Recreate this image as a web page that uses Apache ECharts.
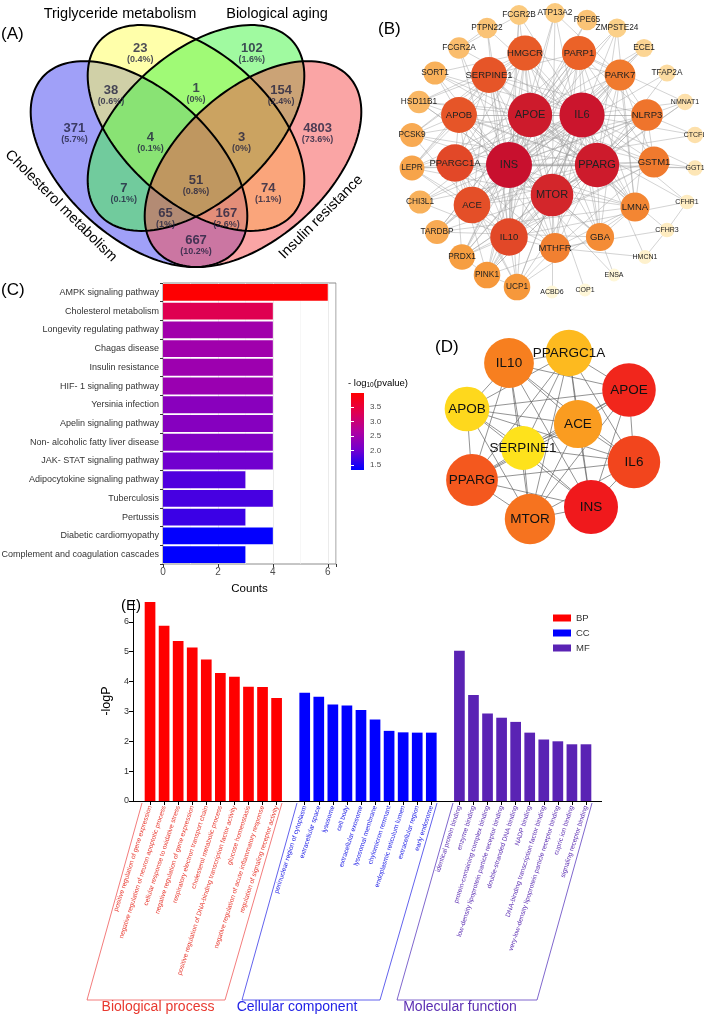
<!DOCTYPE html>
<html>
<head>
<meta charset="utf-8">
<title>Figure</title>
<script src="https://cdn.jsdelivr.net/npm/echarts@6/dist/echarts.min.js"></script>
<style>
html, body { margin: 0; padding: 0; background: #fff; }
#main { width: 704px; height: 1015px; }
</style>
</head>
<body>
<div id="main"></div>
<script>
// ---------- (A) venn ----------
var vennCounts = [371, 23, 102, 4803, 38, 1, 154, 4, 3, 51, 7, 74, 65, 167, 667]
// where each count sits, in the venn's unit square (same order as vennCounts)
var vennSpots = [[0.18, 0.555], [0.353, 0.776], [0.647, 0.776], [0.82, 0.555], [0.276, 0.66], [0.5, 0.665], [0.724, 0.66],
  [0.38, 0.53], [0.62, 0.53], [0.5, 0.411], [0.31, 0.388], [0.69, 0.388], [0.42, 0.319], [0.58, 0.319], [0.5, 0.244]]
// ellipses: centre x, centre y, tilt (deg)  -- cholesterol, triglyceride, aging, insulin
var vennShapes = [[0.35, 0.47, 135], [0.5, 0.57, 135], [0.5, 0.57, 45], [0.65, 0.47, 45]]
var vennA = 0.35
var vennB = 0.2
var vennFills = ['rgba(65,65,241,0.5)', 'rgba(255,255,85,0.5)', 'rgba(65,245,65,0.5)', 'rgba(245,75,75,0.5)']
var vennTotal = vennCounts.reduce(function (s, v) { return s + v }, 0)

// ---------- (B) PPI network ----------
var bNames = ['INS', 'IL6', 'APOE', 'PPARG', 'MTOR', 'IL10', 'PPARGC1A', 'ACE', 'SERPINE1', 'APOB', 'HMGCR', 'PARP1',
  'NLRP3', 'PARK7', 'GSTM1', 'MTHFR', 'LMNA', 'GBA', 'PINK1', 'UCP1', 'PRDX1', 'LEPR', 'PCSK9', 'TARDBP', 'CHI3L1',
  'SORT1', 'HSD11B1', 'FCGR2A', 'PTPN22', 'RPE65', 'FCGR2B', 'ATP13A2', 'ZMPSTE24', 'ECE1', 'TFAP2A', 'NMNAT1',
  'CTCFL', 'GGT1', 'CFHR1', 'CFHR3', 'HMCN1', 'ENSA', 'COP1', 'ACBD6']
var bDegree = [40, 39, 38, 38, 36, 30, 30, 29, 28, 28, 27, 26, 23, 22, 22, 21, 20, 19, 17, 17, 16, 15, 14, 14, 13,
  13, 12, 11, 10, 10, 9, 9, 8, 7, 6, 5, 5, 4, 3, 3, 2, 1, 1, 1]
var bAdj = {
  INS: 'IL6 APOE PPARG MTOR HMGCR PARP1 PARK7 NLRP3 GSTM1 LMNA GBA MTHFR IL10 ACE PPARGC1A APOB SERPINE1 FCGR2B PTPN22 FCGR2A SORT1 HSD11B1 PCSK9 LEPR CHI3L1 TARDBP PRDX1 PINK1 UCP1 ECE1 ZMPSTE24 RPE65 ATP13A2 TFAP2A NMNAT1 GGT1 CTCFL ENSA',
  IL6: 'APOE PPARG MTOR HMGCR PARP1 PARK7 NLRP3 GSTM1 LMNA GBA MTHFR IL10 ACE PPARGC1A APOB SERPINE1 FCGR2B FCGR2A PTPN22 SORT1 HSD11B1 LEPR CHI3L1 TARDBP PRDX1 PINK1 UCP1 ECE1 CFHR1 HMCN1 NMNAT1 CTCFL GGT1',
  APOE: 'PPARG MTOR HMGCR PARP1 PARK7 NLRP3 GSTM1 LMNA GBA MTHFR IL10 ACE PPARGC1A APOB SERPINE1 SORT1 PCSK9 LEPR HSD11B1 TARDBP PRDX1 PINK1 UCP1 ATP13A2 RPE65 ZMPSTE24 ECE1 CFHR1 CFHR3 CHI3L1 FCGR2B',
  PPARG: 'MTOR HMGCR PARP1 PARK7 NLRP3 GSTM1 LMNA GBA MTHFR IL10 ACE PPARGC1A APOB SERPINE1 LEPR HSD11B1 PCSK9 UCP1 PINK1 PRDX1 SORT1 TFAP2A NMNAT1 GGT1 CHI3L1 ZMPSTE24',
  MTOR: 'HMGCR PARP1 PARK7 NLRP3 LMNA GBA MTHFR IL10 ACE PPARGC1A APOB SERPINE1 PINK1 UCP1 PRDX1 TARDBP LEPR ATP13A2 COP1 ACBD6 ZMPSTE24 NMNAT1 HSD11B1',
  IL10: 'ACE APOB SERPINE1 PPARGC1A NLRP3 GSTM1 HMGCR FCGR2A FCGR2B PTPN22 CHI3L1 LEPR MTHFR PRDX1 UCP1 CFHR1',
  ACE: 'APOB SERPINE1 HMGCR PPARGC1A MTHFR GSTM1 NLRP3 LEPR PCSK9 UCP1 ECE1',
  SERPINE1: 'APOB HMGCR PARP1 PPARGC1A LMNA NLRP3 MTHFR LEPR PCSK9 HSD11B1',
  HMGCR: 'APOB PPARGC1A PCSK9 SORT1 LMNA PARK7 GBA HSD11B1 LEPR',
  PARP1: 'PARK7 NLRP3 GSTM1 LMNA PINK1 PRDX1 TARDBP NMNAT1 MTHFR PPARGC1A',
  PARK7: 'PINK1 NLRP3 GSTM1 PRDX1 ATP13A2 TARDBP LMNA GBA',
  NLRP3: 'GSTM1 PINK1 LMNA PPARGC1A CTCFL',
  GSTM1: 'MTHFR GGT1 PRDX1 APOB',
  LMNA: 'ZMPSTE24 MTHFR GBA PPARGC1A UCP1 TARDBP',
  GBA: 'ATP13A2 PINK1 TARDBP ENSA APOB',
  MTHFR: 'APOB PPARGC1A UCP1 HMCN1 CFHR3',
  PPARGC1A: 'UCP1 APOB PINK1 LEPR PRDX1',
  APOB: 'PCSK9 SORT1 LEPR',
  CFHR1: 'CFHR3',
  CFHR3: 'HMCN1',
  FCGR2A: 'FCGR2B PTPN22',
  PINK1: 'PRDX1 UCP1'
}
// node placement (px from the network's centre, y up)
var bLayout = {
  FCGR2B: [-36, 137], ATP13A2: [0, 139], RPE65: [32, 132], ZMPSTE24: [62, 124], ECE1: [89, 104], TFAP2A: [112, 79],
  NMNAT1: [130, 50], CTCFL: [140, 17], GGT1: [140, -16], CFHR1: [132, -50], CFHR3: [112, -78], HMCN1: [90, -105],
  ENSA: [59, -123], COP1: [30, -138], ACBD6: [-3, -140], UCP1: [-38, -135], PINK1: [-68, -123], PRDX1: [-93, -105],
  TARDBP: [-118, -80], CHI3L1: [-135, -50], LEPR: [-143, -16], PCSK9: [-143, 17], HSD11B1: [-136, 50],
  SORT1: [-120, 79], FCGR2A: [-96, 104], PTPN22: [-68, 124],
  HMGCR: [-30, 99], PARP1: [24, 99], PARK7: [65, 77], NLRP3: [92, 37], GSTM1: [99, -10], LMNA: [80, -55],
  GBA: [45, -85], MTHFR: [0, -96], IL10: [-46, -85], ACE: [-83, -53], PPARGC1A: [-100, -11], APOB: [-96, 37],
  SERPINE1: [-66, 77],
  APOE: [-25, 37], IL6: [27, 37], PPARG: [42, -13], MTOR: [-3, -43], INS: [-46, -13]
}
var bRamp = ['#FFF7D8', '#FBCB80', '#F69A3C', '#EE6C28', '#DD3A28', '#C8102E']

// ---------- (C) KEGG ----------
var cTerms = ['AMPK signaling pathway', 'Cholesterol metabolism', 'Longevity regulating pathway', 'Chagas disease',
  'Insulin resistance', 'HIF- 1 signaling pathway', 'Yersinia infection', 'Apelin signaling pathway',
  'Non- alcoholic fatty liver disease', 'JAK- STAT signaling pathway', 'Adipocytokine signaling pathway',
  'Tuberculosis', 'Pertussis', 'Diabetic cardiomyopathy', 'Complement and coagulation cascades']
var cCounts = [6, 4, 4, 4, 4, 4, 4, 4, 4, 4, 3, 4, 3, 4, 3]
var cLogP = [3.95, 3.30, 2.50, 2.48, 2.45, 2.42, 2.25, 2.22, 2.18, 2.00, 1.80, 1.75, 1.68, 1.35, 1.33]
var cScale = [1.33, 3.97]
var cTicks = [1.5, 2.0, 2.5, 3.0, 3.5]
var cRamp = ['#0000FF', '#7000D0', '#B000A0', '#E00050', '#FF0000']

// ---------- (D) hub genes ----------
var dNames = ['INS', 'APOE', 'IL6', 'PPARG', 'MTOR', 'IL10', 'ACE', 'PPARGC1A', 'APOB', 'SERPINE1']
var dScore = [10, 9.6, 8.6, 8.0, 6.8, 6.2, 4.8, 3.4, 1.6, 1.0]
var dAdj = {
  INS: 'APOE IL6 PPARG MTOR IL10 ACE PPARGC1A APOB SERPINE1',
  APOE: 'IL6 PPARG MTOR IL10 ACE PPARGC1A APOB SERPINE1',
  IL6: 'PPARG MTOR IL10 ACE PPARGC1A APOB SERPINE1',
  PPARG: 'MTOR IL10 ACE PPARGC1A APOB SERPINE1',
  MTOR: 'IL10 ACE PPARGC1A APOB SERPINE1',
  IL10: 'ACE PPARGC1A APOB SERPINE1',
  ACE: 'PPARGC1A APOB SERPINE1',
  PPARGC1A: 'APOB SERPINE1',
  APOB: 'SERPINE1'
}
var dLayout = {
  IL10: [-41, 77], PPARGC1A: [19, 87], APOE: [79, 50], APOB: [-83, 31], ACE: [28, 16], SERPINE1: [-27, -8],
  IL6: [84, -22], PPARG: [-78, -40], MTOR: [-20, -79], INS: [41, -67]
}
var dRamp = ['#FEE21C', '#FDBD1F', '#F98D20', '#F4601E', '#F0191C']

// ---------- (E) GO ----------
var bpTerms = ['positive regulation of gene expression', 'negative regulation of neuron apoptotic process',
  'cellular response to oxidative stress', 'negative regulation of gene expression',
  'respiratory electron transport chain', 'cholesterol metabolic process',
  'positive regulation of DNA-binding transcription factor activity', 'glucose homeostasis',
  'negative regulation of acute inflammatory response', 'regulation of signaling receptor activity']
var bpLogP = [6.67, 5.87, 5.36, 5.14, 4.74, 4.29, 4.16, 3.83, 3.82, 3.45]
var ccTerms = ['perinuclear region of cytoplasm', 'extracellular space', 'lysosome', 'cell body',
  'extracellular exosome', 'lysosomal membrane', 'chylomicron remnant', 'endoplasmic reticulum lumen',
  'extracellular region', 'early endosome']
var ccLogP = [3.63, 3.49, 3.23, 3.20, 3.05, 2.73, 2.35, 2.30, 2.29, 2.29]
var mfTerms = ['identical protein binding', 'enzyme binding', 'protein-containing complex binding',
  'low-density lipoprotein particle receptor binding', 'double-stranded DNA binding', 'NADP binding',
  'DNA-binding transcription factor binding', 'very-low-density lipoprotein particle receptor binding',
  'cupric ion binding', 'signaling receptor binding']
var mfLogP = [5.03, 3.55, 2.93, 2.79, 2.65, 2.29, 2.06, 2.00, 1.90, 1.90]
var eTicks = [0, 1, 2, 3, 4, 5, 6]

var FONT = 'Liberation Sans, Arial, sans-serif'

function linksFrom (adj) {
  var seen = {}
  var out = []
  Object.keys(adj).forEach(function (a) {
    adj[a].split(' ').forEach(function (b) {
      var key = a < b ? a + '|' + b : b + '|' + a
      if (!seen[key]) { seen[key] = true; out.push({ source: a, target: b }) }
    })
  })
  return out
}

function ellipseRender (filled) {
  return function (params, api) {
    var e = vennShapes[params.dataIndex]
    var phi = e[2] * Math.PI / 180
    var pts = []
    for (var k = 0; k < 144; k++) {
      var t = k / 144 * Math.PI * 2
      pts.push(api.coord([
        e[0] + vennA * Math.cos(t) * Math.cos(phi) - vennB * Math.sin(t) * Math.sin(phi),
        e[1] + vennA * Math.cos(t) * Math.sin(phi) + vennB * Math.sin(t) * Math.cos(phi)
      ]))
    }
    return {
      type: 'polygon',
      shape: { points: pts },
      style: filled ? { fill: vennFills[params.dataIndex], stroke: null } : { fill: null, stroke: '#000', lineWidth: 2 }
    }
  }
}

var bNodes = bNames.map(function (n, i) {
  var t = (bDegree[i] - 1) / 39
  var d = bDegree[i]
  return {
    name: n,
    value: bLayout[n],
    symbolSize: 13 + t * 33,
    itemStyle: { color: echarts.color.lerp(t, bRamp) },
    label: { fontSize: d >= 33 ? 11 : d >= 18 ? 9.5 : d >= 6 ? 8.3 : 7 }
  }
})

var dNodes = dNames.map(function (n, i) {
  var t = (dScore[i] - 1) / 9
  return {
    name: n,
    value: dLayout[n],
    symbolSize: 44 + t * 10,
    itemStyle: { color: echarts.color.lerp(t, dRamp) }
  }
})

function pColor (p) {
  return echarts.color.lerp((p - cScale[0]) / (cScale[1] - cScale[0]), cRamp)
}

var eCats = bpTerms.concat([' '], ccTerms, ['  '], mfTerms)
var gap11 = [null, null, null, null, null, null, null, null, null, null, null]
var bpData = bpLogP.concat(gap11, gap11)
var ccData = gap11.concat(ccLogP, gap11)
var mfData = gap11.concat(gap11, mfLogP)

function txt (text, x, y, size, extra) {
  var el = {
    type: 'text', x: x, y: y, z: 20,
    style: { text: text, fontSize: size, fontFamily: FONT, fill: '#000', align: 'left', verticalAlign: 'top' }
  }
  if (extra) {
    Object.keys(extra).forEach(function (k) {
      if (k === 'style') Object.assign(el.style, extra.style)
      else el[k] = extra[k]
    })
  }
  return el
}

var hidden = function (grid, min, max) {
  return { type: 'value', gridIndex: grid, min: min, max: max, show: false }
}

var chart = echarts.init(document.getElementById('main'), null, { renderer: 'canvas' })
var option = {
  animation: false,
  backgroundColor: '#fff',
  textStyle: { fontFamily: FONT },
  grid: [
    { left: 6, top: 8.8, width: 380, height: 325, outerBoundsMode: 'none' },
    { left: 400, top: 0, width: 304, height: 312, outerBoundsMode: 'none' },
    { left: 163, top: 283, width: 173, height: 281, show: true, borderColor: '#8c8c8c', borderWidth: 1, outerBoundsMode: 'none' },
    { left: 351, top: 407, width: 13, height: 58, outerBoundsMode: 'none' },
    { left: 430, top: 320, width: 240, height: 240, outerBoundsMode: 'none' },
    { left: 143, top: 601, width: 450, height: 200, outerBoundsMode: 'none' }
  ],
  xAxis: [
    hidden(0, 0, 1),
    hidden(1, -155, 149),
    {
      type: 'value', gridIndex: 2, min: 0, max: 6.3, interval: 2,
      name: 'Counts', nameLocation: 'middle', nameGap: 19,
      nameTextStyle: { fontSize: 11.5, color: '#000' },
      axisLine: { show: false },
      axisTick: { show: true, length: 3, lineStyle: { color: '#333' } },
      axisLabel: { fontSize: 10, color: '#4d4d4d', margin: 3, formatter: function (v) { return v % 2 === 0 ? v : '' } },
      splitLine: { show: true, lineStyle: { color: '#e6e6e6', width: 0.8 } },
      minorTick: { show: false, splitNumber: 2 },
      minorSplitLine: { show: true, lineStyle: { color: '#f2f2f2', width: 0.6 } }
    },
    hidden(3, 0, 1),
    hidden(4, -120, 120),
    {
      type: 'category', gridIndex: 5, data: eCats,
      axisLine: { show: false },
      axisTick: {
        show: true, alignWithLabel: true, length: 4, lineStyle: { color: '#000' },
        interval: function (i, v) { return v.trim() !== '' }
      },
      axisLabel: {
        interval: 0, rotate: 72, fontSize: 6.6, margin: 5,
        color: function (v, i) { return i < 10 ? '#E8392F' : i < 21 ? '#2222E6' : '#5B2DB2' }
      }
    }
  ],
  yAxis: [
    hidden(0, 0, 0.9),
    hidden(1, -160, 152),
    {
      type: 'category', gridIndex: 2, data: cTerms, inverse: true,
      axisLine: { show: false },
      axisTick: { show: true, length: 3, lineStyle: { color: '#333' } },
      axisLabel: { fontSize: 9, color: '#333', margin: 4 }
    },
    {
      type: 'value', gridIndex: 3, position: 'right', min: cTicks[0], max: cTicks[cTicks.length - 1], interval: 0.5, z: 30,
      axisLine: { show: false },
      axisTick: { show: true, inside: true, length: 3, lineStyle: { color: '#fff', width: 1 } },
      axisLabel: { fontSize: 8, color: '#4d4d4d', margin: 6, formatter: function (v) { return v.toFixed(1) } },
      splitLine: { show: false }
    },
    {
      type: 'value', gridIndex: 3, position: 'left', min: cTicks[0], max: cTicks[cTicks.length - 1], interval: 0.5, z: 30,
      axisLine: { show: false },
      axisTick: { show: true, inside: true, length: 3, lineStyle: { color: '#fff', width: 1 } },
      axisLabel: { show: false },
      splitLine: { show: false }
    },
    hidden(4, -120, 120),
    {
      type: 'value', gridIndex: 5, min: 0, max: 6.7, interval: 1, offset: 10,
      name: '-logP', nameLocation: 'middle', nameGap: 13, nameRotate: 90,
      nameTextStyle: { fontSize: 12.5, color: '#000' },
      axisLine: { show: true, lineStyle: { color: '#000', width: 1 } },
      axisTick: { show: true, length: 4, lineStyle: { color: '#000' }, customValues: eTicks },
      axisLabel: { fontSize: 9, color: '#333', margin: 4, customValues: eTicks,
        formatter: function (v) { return Number.isInteger(v) ? v : '' } },
      splitLine: { show: false }
    }
  ],
  legend: {
    data: ['BP', 'CC', 'MF'], orient: 'vertical', left: 548, top: 608,
    itemWidth: 18, itemHeight: 7, itemGap: 5, icon: 'rect',
    textStyle: { fontSize: 9.5, color: '#333' }
  },
  series: [
    {
      type: 'custom', name: 'vennFill', xAxisIndex: 0, yAxisIndex: 0, silent: true,
      renderItem: ellipseRender(true), data: vennShapes.map(function (s) { return [s[0], s[1]] }), z: 1
    },
    {
      type: 'custom', name: 'vennEdge', xAxisIndex: 0, yAxisIndex: 0, silent: true,
      renderItem: ellipseRender(false), data: vennShapes.map(function (s) { return [s[0], s[1]] }), z: 2
    },
    {
      type: 'scatter', name: 'vennCounts', xAxisIndex: 0, yAxisIndex: 0, silent: true, z: 3,
      symbolSize: 1, itemStyle: { color: 'rgba(0,0,0,0)' },
      data: vennSpots,
      label: {
        show: true, position: 'inside',
        formatter: function (p) {
          var c = vennCounts[p.dataIndex]
          var pct = Number((c / vennTotal * 100).toFixed(1))
          return '{n|' + c + '}\n{p|(' + pct + '%)}'
        },
        rich: {
          n: { fontSize: 13, fontWeight: 'bold', color: '#222240', lineHeight: 12, fontFamily: FONT },
          p: { fontSize: 9, fontWeight: 'bold', color: '#222240', lineHeight: 10, fontFamily: FONT }
        }
      }
    },
    {
      type: 'graph', name: 'ppi', coordinateSystem: 'cartesian2d', xAxisIndex: 1, yAxisIndex: 1,
      layout: 'none', silent: true, z: 3,
      data: bNodes, links: linksFrom(bAdj),
      lineStyle: { color: '#9c9c9c', width: 0.6, opacity: 0.75, curveness: 0 },
      label: { show: true, position: 'inside', color: '#222' },
      emphasis: { disabled: true }
    },
    {
      type: 'bar', name: 'kegg', xAxisIndex: 2, yAxisIndex: 2, silent: true,
      barCategoryGap: '10%',
      data: cCounts.map(function (c, i) { return { value: c, itemStyle: { color: pColor(cLogP[i]) } } })
    },
    {
      type: 'graph', name: 'hubs', coordinateSystem: 'cartesian2d', xAxisIndex: 4, yAxisIndex: 5,
      layout: 'none', silent: true, z: 3,
      data: dNodes, links: linksFrom(dAdj),
      lineStyle: { color: '#606060', width: 0.8, opacity: 0.85, curveness: 0 },
      label: { show: true, position: 'inside', color: '#111', fontSize: 13.5 },
      emphasis: { disabled: true }
    },
    {
      type: 'bar', name: 'BP', xAxisIndex: 5, yAxisIndex: 6, stack: 'go', barCategoryGap: '24%',
      itemStyle: { color: '#FF0000' }, data: bpData
    },
    {
      type: 'bar', name: 'CC', xAxisIndex: 5, yAxisIndex: 6, stack: 'go', barCategoryGap: '24%',
      itemStyle: { color: '#0000FF' }, data: ccData
    },
    {
      type: 'bar', name: 'MF', xAxisIndex: 5, yAxisIndex: 6, stack: 'go', barCategoryGap: '24%',
      itemStyle: { color: '#5A23B4' }, data: mfData
    }
  ],
  graphic: [
    txt('(A)', 1, 26, 17),
    txt('(B)', 378, 21, 17),
    txt('(C)', 1, 282, 17),
    txt('(D)', 435, 339, 17),
    txt('(E)', 121, 598, 15),
    txt('Triglyceride metabolism', 120, 14, 14.5, { style: { align: 'center', verticalAlign: 'middle' } }),
    txt('Biological aging', 277, 14, 14.5, { style: { align: 'center', verticalAlign: 'middle' } }),
    txt('Cholesterol metabolism', 61, 206, 14.5, { rotation: -Math.PI / 4, style: { align: 'center', verticalAlign: 'middle' } }),
    txt('Insulin resistance', 321, 217, 14.5, { rotation: Math.PI / 4, style: { align: 'center', verticalAlign: 'middle' } }),
    {
      type: 'rect', z: 5, shape: { x: 351, y: 393, width: 13, height: 77 },
      style: {
        fill: new echarts.graphic.LinearGradient(0, 0, 0, 1, cRamp.slice().reverse().map(function (c, i) {
          return { offset: i / (cRamp.length - 1), color: c }
        }))
      }
    },
    txt('- log{s|10}(pvalue)', 348, 383, 9.5, {
      style: {
        verticalAlign: 'middle',
        rich: { s: { fontSize: 6.5, fontFamily: FONT, verticalAlign: 'bottom', padding: [4, 0, 0, 0] } }
      }
    }),
    { type: 'line', z: 10, shape: { x1: 133, y1: 801.5, x2: 602, y2: 801.5 }, style: { stroke: '#000', lineWidth: 1 } },
    { type: 'polyline', z: 10, shape: { points: [[142, 803], [87, 1000], [225, 1000], [282, 803]] }, style: { stroke: '#F05A5A', lineWidth: 0.8, fill: null } },
    { type: 'polyline', z: 10, shape: { points: [[297, 803], [242, 1000], [380, 1000], [437, 803]] }, style: { stroke: '#3A3AE8', lineWidth: 0.8, fill: null } },
    { type: 'polyline', z: 10, shape: { points: [[453, 803], [397, 1000], [537, 1000], [592, 803]] }, style: { stroke: '#6040C0', lineWidth: 0.8, fill: null } },
    txt('Biological process', 158, 1007, 14, { style: { align: 'center', verticalAlign: 'middle', fill: '#E8392F' } }),
    txt('Cellular component', 297, 1007, 14, { style: { align: 'center', verticalAlign: 'middle', fill: '#2222E6' } }),
    txt('Molecular function', 460, 1007, 14, { style: { align: 'center', verticalAlign: 'middle', fill: '#5B2DB2' } })
  ]
}
chart.setOption(option)
</script>
</body>
</html>
